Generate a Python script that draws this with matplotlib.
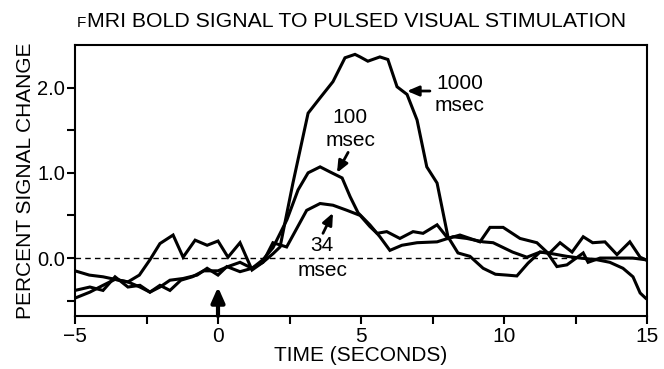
"""fMRI BOLD response to pulsed visual stimulation (34, 100, 1000 msec)."""
import matplotlib

matplotlib.use("Agg")
import matplotlib.pyplot as plt
from matplotlib.ticker import FixedLocator

plt.rcParams["font.family"] = ["Liberation Sans", "DejaVu Sans"]

t_1000 = [-5, -4.48, -4.02, -3.6, -3.15, -2.73, -2.38, -2.03, -1.68, -1.22,
          -0.73, -0.38, 0, 0.31, 0.77, 1.19, 1.57, 1.92, 2.17, 2.62, 3.15,
          3.57, 4.02, 4.44, 4.79, 4.97, 5.24, 5.66, 5.94, 6.26, 6.61, 6.96,
          7.3, 7.66, 8.04, 8.39, 8.81, 9.27, 9.7, 10.1, 10.45, 10.84, 11.26,
          11.7, 12.2, 12.66, 13.25, 13.7, 14.16, 14.51, 14.76, 14.95]
v_1000 = [-0.38, -0.34, -0.38, -0.22, -0.34, -0.32, -0.40, -0.34, -0.26, -0.24,
          -0.20, -0.12, -0.20, -0.10, -0.16, -0.12, -0.05, 0.05, 0.13, 0.88, 1.70,
          1.88, 2.07, 2.35, 2.39, 2.36, 2.31, 2.36, 2.33, 2.01, 1.92, 1.62,
          1.07, 0.88, 0.25, 0.06, 0.02, -0.12, -0.19, -0.20, -0.21, -0.06, 0.07,
          0.05, 0.02, 0.0, -0.02, -0.05, -0.12, -0.22, -0.41, -0.47]

t_100 = [-5, -4.48, -4.02, -3.6, -3.15, -2.73, -2.38, -2.03, -1.68, -1.3,
         -0.9, -0.5, 0, 0.35, 0.77, 1.19, 1.57, 1.92, 2.41, 2.8, 3.15, 3.57,
         3.92, 4.34, 4.62, 4.9, 5.31, 5.66, 6.01, 6.43, 6.96, 7.66, 8.22, 8.7,
         9.27, 9.62, 10.3, 10.8, 11.26, 11.6, 11.96, 12.38, 12.77, 13.1, 13.53,
         13.95, 14.4, 14.76, 14.95]
v_100 = [-0.47, -0.40, -0.32, -0.25, -0.28, -0.34, -0.40, -0.32, -0.38, -0.26,
         -0.22, -0.15, -0.15, -0.10, -0.05, -0.12, -0.02, 0.12, 0.45, 0.80, 1.00, 1.07,
         1.01, 0.94, 0.72, 0.53, 0.39, 0.25, 0.09, 0.15, 0.18, 0.19, 0.25, 0.23,
         0.19, 0.18, 0.07, 0.01, 0.07, 0.06, 0.18, 0.07, 0.25, 0.18, 0.19,
         0.04, 0.19, 0.01, -0.02]

t_34 = [-5, -4.5, -4.02, -3.6, -3.15, -2.75, -2.38, -2.03, -1.57, -1.22,
        -0.8, -0.38, 0, 0.35, 0.77, 1.19, 1.57, 1.92, 2.4, 3.1, 3.57, 4.02,
        4.51, 4.97, 5.31, 5.56, 5.9, 6.36, 6.82, 7.17, 7.66, 8.04, 8.46, 8.81,
        9.16, 9.51, 9.97, 10.56, 11.15, 11.5, 11.85, 12.2, 12.77, 12.94, 13.36,
        13.9, 14.5, 14.95]
v_34 = [-0.15, -0.20, -0.22, -0.25, -0.28, -0.20, -0.02, 0.17, 0.27, 0.01,
        0.21, 0.15, 0.20, 0.01, 0.18, -0.14, -0.05, 0.18, 0.13, 0.56, 0.64, 0.62,
        0.56, 0.50, 0.37, 0.29, 0.31, 0.23, 0.31, 0.29, 0.39, 0.23, 0.27, 0.23,
        0.19, 0.36, 0.36, 0.23, 0.18, 0.07, -0.10, -0.08, 0.06, -0.05, 0.0,
        0.0, 0.0, -0.02]

x_major = [-5, 0, 5, 10, 15]
x_minor = [-2.5, 2.5, 7.5, 12.5]
y_major = [0.0, 1.0, 2.0]
y_minor = [-0.5, 0.5, 1.5]

fig = plt.figure(figsize=(6.64, 3.69), dpi=100)
ax = fig.add_axes([75 / 664, 1 - 316 / 369, 572 / 664, 271 / 369])

for t, v in [(t_1000, v_1000), (t_100, v_100), (t_34, v_34)]:
    ax.plot(t, v, color="black", linewidth=2.2, solid_joinstyle="miter")

ax.axhline(0, color="black", linewidth=1.0, linestyle=(0, (4, 3)), zorder=1)

ax.set_xlim(-5, 15)
ax.set_ylim(-0.68, 2.5)
ax.xaxis.set_major_locator(FixedLocator(x_major))
ax.xaxis.set_minor_locator(FixedLocator(x_minor))
ax.yaxis.set_major_locator(FixedLocator(y_major))
ax.yaxis.set_minor_locator(FixedLocator(y_minor))
ax.set_yticklabels([f"{v:.1f}" for v in y_major])
ax.tick_params(which="both", direction="out", length=6, width=1.5, labelsize=15)
ax.tick_params(axis="x", pad=2)
ax.tick_params(axis="y", pad=1, labelsize=14.5)
for s in ax.spines.values():
    s.set_linewidth(1.5)

ax.set_xlabel("TIME (SECONDS)", fontsize=15, labelpad=0)
ax.set_ylabel("PERCENT SIGNAL CHANGE", fontsize=15, labelpad=2)

# title with small-cap "f"
title_y = 1 - 27 / 369
t1 = fig.text(77 / 664, title_y, "F", fontsize=11, va="baseline", ha="left")
fig.canvas.draw()
x_end = t1.get_window_extent().x1
fig.text(x_end / 664 + 0.5 / 664, title_y,
         "MRI BOLD SIGNAL TO PULSED VISUAL STIMULATION",
         fontsize=15.3, va="baseline", ha="left")

# labels + arrows
ax.text(8.46, 1.92, "1000\nmsec", fontsize=15, ha="center", va="center",
        linespacing=1.25)
ax.text(4.62, 1.51, "100\nmsec", fontsize=15, ha="center", va="center",
        linespacing=1.25)
ax.text(3.64, 0.0, "34\nmsec", fontsize=15, ha="center", va="center",
        linespacing=1.45)

arrow = dict(arrowstyle="-|>,head_length=0.7,head_width=0.3", color="black",
             lw=2, shrinkA=0, shrinkB=0)
ax.annotate("", xy=(6.61, 1.96), xytext=(7.41, 1.96), arrowprops=arrow)
ax.annotate("", xy=(4.16, 1.0), xytext=(4.55, 1.24), arrowprops=arrow)
ax.annotate("", xy=(4.02, 0.53), xytext=(3.67, 0.29), arrowprops=arrow)

# stimulus onset marker
ax.annotate("", xy=(0, -0.34), xytext=(0, -0.68),
            arrowprops=dict(arrowstyle="-|>,head_length=0.9,head_width=0.4",
                            color="black", lw=3, shrinkA=0, shrinkB=0))

fig.savefig("out.png", dpi=100)
